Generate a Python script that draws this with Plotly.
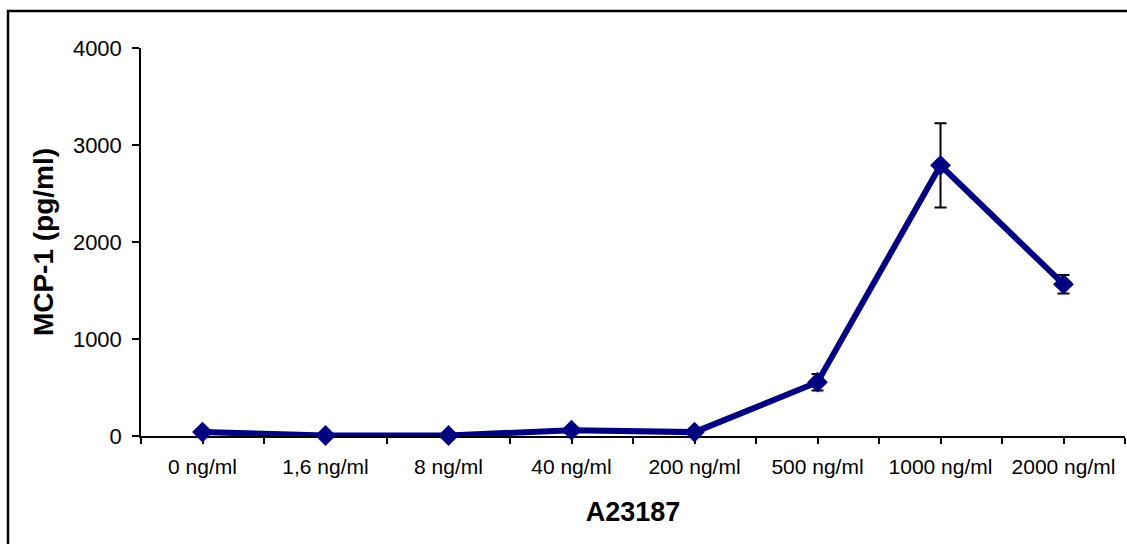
import plotly.graph_objects as go

# A23187 concentrations and measured MCP-1 release
categories = ["0 ng/ml", "1,6 ng/ml", "8 ng/ml", "40 ng/ml", "200 ng/ml",
              "500 ng/ml", "1000 ng/ml", "2000 ng/ml"]
mcp1_mean = [40, 5, 5, 60, 40, 555, 2790, 1565]
mcp1_err = [15, 10, 10, 15, 15, 85, 435, 95]
y_ticks = [0, 1000, 2000, 3000, 4000]

x_pos = list(range(len(categories)))
boundaries = [i - 0.5 for i in range(len(categories) + 1)]

FONT = "Liberation Sans, Arial, sans-serif"
NAVY = "#000080"

fig = go.Figure()
fig.add_trace(go.Scatter(
    x=x_pos, y=mcp1_mean,
    mode="lines+markers",
    line=dict(color=NAVY, width=6),
    marker=dict(symbol="diamond", size=16, color=NAVY),
    error_y=dict(type="data", array=mcp1_err, visible=True,
                 color="black", thickness=2, width=6),
    cliponaxis=False,
    showlegend=False,
))

fig.update_layout(
    width=1127, height=544,
    margin=dict(l=141, r=2, t=48, b=108),
    paper_bgcolor="white", plot_bgcolor="white",
    font=dict(family=FONT, size=21, color="black"),
    xaxis=dict(
        range=[-0.5, len(categories) - 0.5],
        tickvals=x_pos, ticktext=categories,
        ticks="outside", ticklen=6, tickwidth=1.5, tickcolor="black",
        ticklabelstandoff=5,
        minor=dict(tickvals=boundaries, ticks="outside", ticklen=6,
                   tickwidth=1.5, tickcolor="black"),
        showline=True, linecolor="black", linewidth=1.5,
        showgrid=False, zeroline=False, layer="below traces",
        title=dict(text="<b>A23187</b>", font=dict(size=27), standoff=25),
    ),
    xaxis2=dict(
        overlaying="x", anchor="y", side="bottom",
        range=[-0.5, len(categories) - 0.5],
        tickvals=x_pos, showticklabels=False,
        ticks="inside", ticklen=7, tickwidth=1.5, tickcolor="black",
        showline=False, showgrid=False, zeroline=False,
    ),
    yaxis=dict(
        range=[0, 4000], tickvals=y_ticks,
        ticks="outside", ticklen=7, tickwidth=1.5, tickcolor="black",
        tickfont=dict(size=22), ticklabelstandoff=6,
        showline=True, linecolor="black", linewidth=1.5,
        showgrid=False, zeroline=False, layer="below traces",
        title=dict(text="<b>MCP-1 (pg/ml)</b>", font=dict(size=28), standoff=11),
    ),
    shapes=[dict(type="rect", xref="paper", yref="paper",
                 x0=(8 - 141) / 984, x1=(1140 - 141) / 984,
                 y0=(436 - 560) / 388, y1=(436 - 11) / 388,
                 line=dict(color="black", width=2.5),
                 fillcolor="rgba(0,0,0,0)", layer="below")],
)

fig.write_html("out.html")
